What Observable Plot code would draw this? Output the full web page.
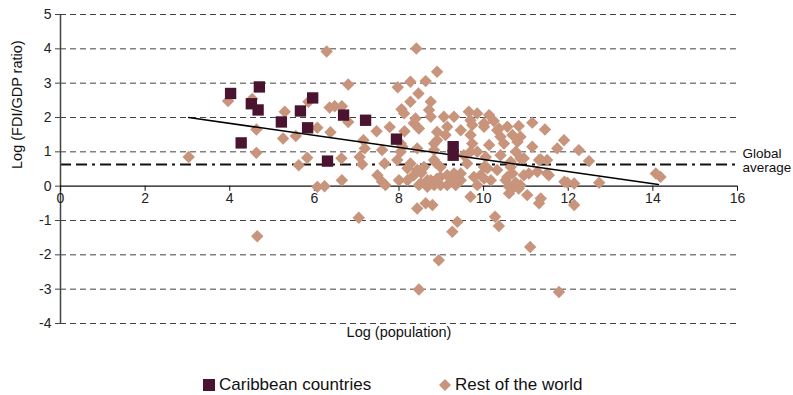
<!DOCTYPE html>
<html>
<head>
<meta charset="utf-8">
<script src="https://cdn.jsdelivr.net/npm/d3@7"></script>
<script src="https://cdn.jsdelivr.net/npm/@observablehq/plot@0.6"></script>
<style>
  html, body { margin: 0; padding: 0; background: #fff; }
  body { width: 793px; height: 395px; overflow: hidden; font-family: "Liberation Sans", Arial, sans-serif; }
  #legend { position: relative; height: 45px; }
  .item { position: absolute; top: 25px; font-size: 17px; color: #111; display: flex; align-items: center; }
</style>
</head>
<body>
<div id="chart"></div>
<div id="legend">
  <div class="item" style="left:203px"><svg width="14" height="14" style="margin-right:2px"><rect x="0" y="1" width="12" height="12" fill="#4a1330"/></svg>Caribbean countries</div>
  <div class="item" style="left:438px"><svg width="16" height="14" style="margin-right:1px"><path d="M7,1 L13,7 L7,13 L1,7 Z" fill="#c8957c"/></svg>Rest of the world</div>
</div>
<script>
// Caribbean countries: log(population), log(FDI/GDP ratio)
const caribX = [4.02, 4.70, 4.51, 4.67, 4.27, 5.22, 5.67, 5.96, 5.84, 6.31, 6.69, 7.21, 7.94, 9.28, 9.28];
const caribY = [2.70, 2.89, 2.40, 2.22, 1.26, 1.87, 2.19, 2.57, 1.70, 0.73, 2.07, 1.92, 1.37, 1.15, 0.90];

// Rest of the world
const restX = [3.03,3.96,4.53,4.63,4.63,4.65,5.30,5.26,5.56,5.63,5.83,5.86,6.07,6.07,6.24,6.29,6.36,6.48,6.38,6.65,
  6.80,6.80,6.64,6.65,7.07,7.16,7.19,7.13,7.05,7.47,7.49,7.60,7.66,7.78,7.60,7.68,7.97,8.06,8.13,8.08,
  8.00,8.27,8.27,8.41,8.46,8.27,8.63,8.90,8.75,8.71,8.75,8.35,8.47,8.53,8.35,8.47,8.83,8.87,9.06,9.30,
  9.14,8.90,8.98,8.98,8.39,9.65,9.85,10.13,10.24,9.73,10.01,10.36,10.56,10.83,11.15,11.45,10.40,10.68,10.80,10.48,
  9.69,9.73,10.13,11.15,11.74,11.90,12.25,12.49,11.50,11.35,10.76,10.87,10.40,9.69,9.53,10.05,8.90,8.59,9.61,10.01,
  10.32,10.64,11.07,11.27,11.50,11.98,12.14,12.73,14.07,14.18,9.30,9.46,9.93,10.17,9.85,10.52,10.60,10.76,8.75,8.83,
  9.14,9.34,8.20,9.22,9.69,10.68,10.60,10.83,11.03,11.35,11.31,12.14,9.38,9.26,10.27,10.36,8.43,8.63,8.79,8.94,
  8.47,11.78,11.10,8.51,8.67,8.04,7.96,8.20,8.43,8.04,8.12,8.43,8.83,8.83,8.98,8.67,8.90,9.46,9.10,10.32,
  9.85,10.64,10.95,11.31,10.09,10.68,10.95,9.14,9.46,9.77,11.91,10.87,11.54,9.69,10.01,10.87,10.01,10.56,9.34];
const restY = [0.85,2.48,2.54,1.65,0.97,-1.46,2.17,1.39,1.46,0.61,0.83,2.46,1.70,-0.02,0.00,3.92,2.29,2.33,1.57,2.33,
  2.96,1.87,0.81,0.17,0.85,1.34,1.10,0.64,-0.92,1.60,0.32,0.13,0.66,1.72,1.05,0.03,2.88,2.24,1.60,1.15,
  0.17,0.66,3.04,4.01,2.70,2.46,3.06,3.33,2.46,2.22,2.02,1.83,1.68,0.39,0.32,0.03,1.05,0.68,2.02,2.02,
  1.73,1.34,0.27,0.03,1.97,2.17,2.12,2.07,1.90,1.78,1.73,1.68,1.73,1.75,1.85,1.65,1.44,1.49,1.29,1.24,
  1.49,1.24,1.20,1.15,1.10,1.34,1.05,0.73,0.76,0.78,1.00,0.81,0.90,1.00,0.90,0.85,1.58,0.56,0.66,0.56,
  0.47,0.56,0.37,0.42,0.37,0.10,0.08,0.10,0.37,0.27,0.37,0.37,0.32,0.17,0.03,0.17,-0.02,0.10,0.17,0.03,
  0.03,0.17,0.17,0.13,-0.31,-0.07,-0.21,-0.07,-0.26,-0.36,-0.50,-0.55,-1.04,-1.33,-0.89,-1.16,-0.65,-0.50,-0.55,-2.16,
  -3.01,-3.08,-1.77,0.08,-0.02,1.00,0.76,0.52,0.47,1.24,2.12,1.10,1.24,0.76,0.56,0.17,0.22,1.63,1.49,1.63,
  1.00,0.71,0.81,0.76,0.52,0.37,0.32,0.32,0.17,0.27,0.13,0.03,0.32,1.92,1.83,1.44,0.22,0.27,0.03];

// Trend line end points and global average
const trendX = [3.03, 14.13];
const trendY = [2.00, 0.05];
const globalAverage = 0.63;

const xTicks = [0, 2, 4, 6, 8, 10, 12, 14, 16];
const yTicks = [-4, -3, -2, -1, 0, 1, 2, 3, 4, 5];
const gridLines = [-4, -3, -2, -1, 1, 2, 3, 4, 5];

const carib = caribX.map((x, i) => ({x, y: caribY[i]}));
const rest = restX.map((x, i) => ({x, y: restY[i]}));
const trend = trendX.map((x, i) => ({x, y: trendY[i]}));

const chart = Plot.plot({
  width: 793,
  height: 350,
  marginLeft: 60,
  marginRight: 56,
  marginTop: 14,
  marginBottom: 27,
  style: {fontFamily: "Liberation Sans, Arial, sans-serif", fontSize: "14px", color: "#111", background: "#fff"},
  x: {domain: [0, 16], axis: null},
  y: {domain: [-4, 5], axis: null},
  marks: [
    Plot.ruleY(gridLines, {x1: 0, x2: 16, stroke: "#444", strokeWidth: 1, strokeDasharray: "6,4"}),
    Plot.ruleY([globalAverage], {x1: 0, x2: 16, stroke: "#111", strokeWidth: 2, strokeDasharray: "11,5,11,5,3,5"}),
    Plot.ruleX([0], {y1: -4, y2: 5, stroke: "#444", strokeWidth: 1.5}),
    Plot.ruleY([0], {x1: 0, x2: 16, stroke: "#111", strokeWidth: 1.2}),
    Plot.ruleX(xTicks, {x: d => d, y1: 0, y2: -0.15, stroke: "#111"}),
    Plot.text(xTicks, {x: d => d, y: 0, dy: 12, text: d => String(d), fill: "#222", fontSize: 14}),
    Plot.axisY(yTicks, {anchor: "left", tickSize: 5, tickPadding: 4, stroke: "#444", fill: "#222", fontSize: 14, label: null, tickFormat: d => String(d)}),
    Plot.dot(rest, {x: "x", y: "y", symbol: "diamond2", r: 5.6, fill: "#c8957c", stroke: "none"}),
    Plot.line(trend, {x: "x", y: "y", stroke: "#000", strokeWidth: 1.6}),
    Plot.dot(carib, {x: "x", y: "y", symbol: "square", r: 6.4, fill: "#4a1330", stroke: "none"}),
    Plot.text(["Global\naverage"], {x: 16, y: globalAverage, dx: 5, dy: -4, textAnchor: "start", lineAnchor: "middle", fontSize: 13.5, fill: "#111", lineHeight: 1.02}),
    Plot.text(["Log (population)"], {frameAnchor: "bottom", dy: 13, fontSize: 14.5, fill: "#111"}),
    Plot.text(["Log (FDI/GDP ratio)"], {frameAnchor: "left", dx: -43, rotate: -90, fontSize: 14.5, fill: "#111"})
  ]
});
document.getElementById("chart").appendChild(chart);
</script>
</body>
</html>
